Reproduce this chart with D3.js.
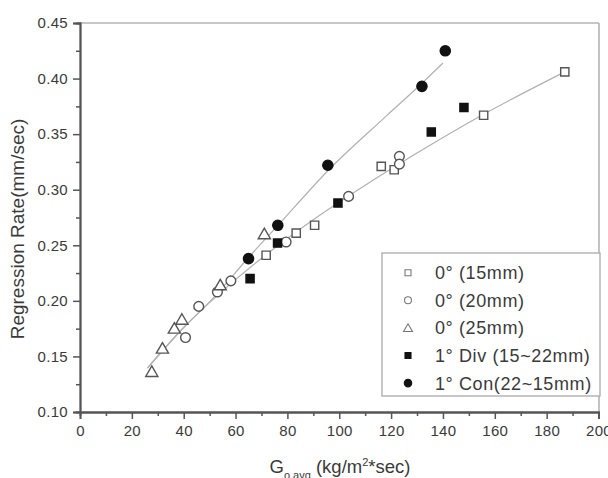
<!DOCTYPE html>
<html>
<head>
<meta charset="utf-8">
<script src="https://cdn.jsdelivr.net/npm/d3@7"></script>
<style>
  html, body { margin: 0; padding: 0; background: #fff; }
  svg { display: block; }
  text { font-family: "Liberation Sans", Arial, sans-serif; fill: #3a3a3a; }
</style>
</head>
<body>
<svg id="chart" width="608" height="478"></svg>
<script>
// ---- data ----
const xTicks = [0, 20, 40, 60, 80, 100, 120, 140, 160, 180, 200];
const yTicks = [0.10, 0.15, 0.20, 0.25, 0.30, 0.35, 0.40, 0.45];

const seriesNames = ["0° (15mm)", "0° (20mm)", "0° (25mm)", "1° Div (15~22mm)", "1° Con(22~15mm)"];

const sq15G = [71.8, 83.4, 90.5, 116.2, 121.2, 155.7, 187.0];
const sq15R = [0.241, 0.261, 0.268, 0.321, 0.318, 0.367, 0.406];

const ci20G = [40.7, 45.8, 53.0, 58.2, 79.5, 103.6, 123.2, 123.2];
const ci20R = [0.167, 0.195, 0.208, 0.218, 0.253, 0.294, 0.330, 0.323];

const tr25G = [27.7, 31.8, 36.4, 39.3, 54.1, 71.1];
const tr25R = [0.136, 0.157, 0.175, 0.183, 0.214, 0.260];

const divG = [65.6, 76.2, 99.5, 135.5, 148.1];
const divR = [0.220, 0.252, 0.288, 0.352, 0.374];

const conG = [65.0, 76.3, 95.6, 131.9, 140.9];
const conR = [0.238, 0.268, 0.322, 0.393, 0.425];

// fitted curves
const fitLowG = [26, 40, 54, 72, 90, 110, 130, 155, 187];
const fitLowR = [0.1395, 0.176, 0.207, 0.242, 0.273, 0.304, 0.333, 0.367, 0.406];
const fitUpG = [26, 40, 52, 65, 76, 96, 118, 132, 140];
const fitUpR = [0.1395, 0.176, 0.204, 0.239, 0.267, 0.318, 0.366, 0.396, 0.414];

// ---- drawing ----
const svg = d3.select("#chart");
const L = 80, R = 599, T = 23, B = 412;
const x = d3.scaleLinear().domain([0, 200]).range([L, 598.5]);
const y = d3.scaleLinear().domain([0.10, 0.45]).range([B, T]);

// frame (top/right light)
svg.append("line").attr("x1", L).attr("x2", R).attr("y1", T).attr("y2", T)
  .attr("stroke", "#b5b5b5").attr("stroke-width", 1.6);
svg.append("line").attr("x1", R).attr("x2", R).attr("y1", T).attr("y2", B)
  .attr("stroke", "#b5b5b5").attr("stroke-width", 1.6);

// fit lines
const line = d3.line().x(d => x(d[0])).y(d => y(d[1])).curve(d3.curveMonotoneX);
svg.append("path").datum(d3.zip(fitLowG, fitLowR)).attr("d", line)
  .attr("fill", "none").attr("stroke", "#b0b0b0").attr("stroke-width", 1.2);
svg.append("path").datum(d3.zip(fitUpG, fitUpR)).attr("d", line)
  .attr("fill", "none").attr("stroke", "#b0b0b0").attr("stroke-width", 1.2);

// axes
const xAxis = d3.axisBottom(x).tickValues(xTicks).tickFormat(d3.format("d")).tickSize(7).tickPadding(6);
const xMinor = d3.axisBottom(x).tickValues(d3.range(10, 200, 20)).tickFormat("").tickSize(4);
const yAxis = d3.axisLeft(y).tickValues(yTicks).tickFormat(d3.format(".2f")).tickSize(7).tickPadding(5);
const yMinor = d3.axisLeft(y).tickValues(d3.range(0.125, 0.45, 0.05)).tickFormat("").tickSize(4);

function styleAxis(g) {
  g.select(".domain").attr("stroke", "#555").attr("stroke-width", 1.8);
  g.selectAll(".tick line").attr("stroke", "#555").attr("stroke-width", 1.5);
  g.selectAll(".tick text").attr("fill", "#444").style("font-size", "15px")
    .style("letter-spacing", "0.3px")
    .style("font-family", '"Liberation Sans", Arial, sans-serif');
}
svg.append("g").attr("transform", `translate(0,${B})`).call(xMinor).call(styleAxis);
svg.append("g").attr("transform", `translate(${L},0)`).call(yMinor).call(styleAxis);
svg.append("g").attr("transform", `translate(0,${B})`).call(xAxis).call(styleAxis);
svg.append("g").attr("transform", `translate(${L},0)`).call(yAxis).call(styleAxis);

// markers
const markerDefs = [
  { G: sq15G, Rv: sq15R, sym: d3.symbolSquare, size: 68, fill: "#fff", stroke: "#555" },
  { G: ci20G, Rv: ci20R, sym: d3.symbolCircle, size: 74, fill: "#fff", stroke: "#555" },
  { G: tr25G, Rv: tr25R, sym: d3.symbolTriangle, size: 64, fill: "#fff", stroke: "#555" },
  { G: divG, Rv: divR, sym: d3.symbolSquare, size: 66, fill: "#111", stroke: "#111" },
  { G: conG, Rv: conR, sym: d3.symbolCircle, size: 82, fill: "#111", stroke: "#111" }
];

markerDefs.forEach(m => {
  svg.append("g").selectAll("path").data(d3.zip(m.G, m.Rv)).join("path")
    .attr("d", d3.symbol().type(m.sym).size(m.size))
    .attr("transform", d => `translate(${x(d[0])},${y(d[1]) + (m.sym === d3.symbolTriangle ? 1 : 0)})`)
    .attr("fill", m.fill).attr("stroke", m.stroke).attr("stroke-width", 1.4);
});

// legend
const lg = svg.append("g");
lg.append("rect").attr("x", 382).attr("y", 253).attr("width", 218).attr("height", 143)
  .attr("fill", "#fff").attr("stroke", "#aaa").attr("stroke-width", 1.3);
const legSizes = [36, 38, 34, 36, 44];
seriesNames.forEach((name, i) => {
  const cy = 272.7 + i * 27.6;
  const m = markerDefs[i];
  lg.append("path").attr("d", d3.symbol().type(m.sym).size(legSizes[i]))
    .attr("transform", `translate(408,${cy + (m.sym === d3.symbolTriangle ? 1 : 0)})`)
    .attr("fill", m.fill === "#fff" ? "#fff" : "#111")
    .attr("stroke", m.fill === "#fff" ? "#777" : "#111").attr("stroke-width", 1.1);
  lg.append("text").attr("x", 435).attr("y", cy + 6.5)
    .style("font-size", "18px").style("letter-spacing", "0.6px").text(name);
});

// axis titles
svg.append("text")
  .attr("transform", `translate(24,229) rotate(-90)`)
  .attr("text-anchor", "middle").style("font-size", "19px")
  .text("Regression Rate(mm/sec)");

const xt = svg.append("text").attr("x", 340).attr("y", 473)
  .attr("text-anchor", "middle").style("font-size", "18.5px");
xt.append("tspan").text("G");
xt.append("tspan").attr("dy", 6).style("font-size", "11px").text("o,avg");
xt.append("tspan").attr("dy", -6).text(" (kg/m");
xt.append("tspan").attr("dy", -7).style("font-size", "11px").text("2");
xt.append("tspan").attr("dy", 7).text("*sec)");
</script>
</body>
</html>
